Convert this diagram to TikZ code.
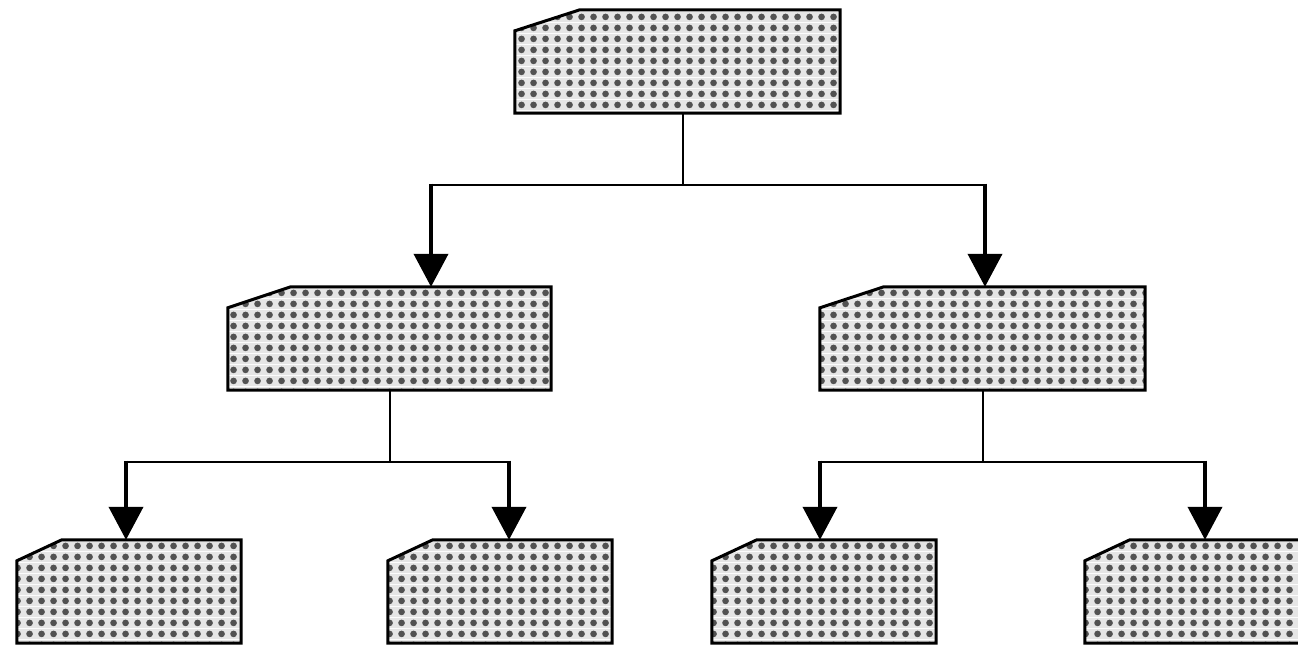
\documentclass[tikz,border=0pt]{standalone}
\usetikzlibrary{arrows.meta,patterns.meta}
\tikzdeclarepattern{
  name=dotgrid,
  type=colored,
  parameters={},
  bounding box={(0pt,0pt) and (12pt,11pt)},
  tile size={(12pt,11pt)},
  code={
    \fill[black!10] (0pt,0pt) rectangle (12pt,11pt);
    \fill[black!68] (6pt,5.5pt) circle (3.6pt);
  }
}
\tikzset{
  box/.style={draw=none, inner sep=0pt, minimum height=103pt},
  bigbox/.style={box, minimum width=325pt},
  smallbox/.style={box, minimum width=224pt},
  outline/.style={draw=black, line width=3pt, line join=miter, pattern=dotgrid},
  conn/.style={draw=black, line width=2.6pt},
  arr/.style={draw=black, line width=4pt, -{Triangle[width=34pt,length=33pt]}},
}
\begin{document}
\begin{tikzpicture}[x=1pt,y=-1pt]
\useasboundingbox (0,0) rectangle (1298,649);
\begin{scope}
\clip (0,0) rectangle (1298,649);
% boxes
\node[bigbox] (top) at (677.5,61.5) {};
\node[bigbox, minimum width=323pt] (midL) at (389.5,338.5) {};
\node[bigbox] (midR) at (982.5,338.5) {};
\node[smallbox] (bl1) at (129,591.5) {};
\node[smallbox] (bl2) at (500,591.5) {};
\node[smallbox] (br1) at (824,591.5) {};
\node[smallbox] (br2) at (1197,591.5) {};
\foreach \n/\d in {top/65,midL/63,midR/64,bl1/45,bl2/45,br1/45,br2/45}{
  \path[outline] ([yshift=-21pt]\n.north west) -- ([xshift=\d pt]\n.north west)
     -- (\n.north east) -- (\n.south east) -- (\n.south west) -- cycle;
}
\end{scope}
% level 1 connectors
\coordinate (j0) at (683,185);
\coordinate (a1) at (431,185);
\coordinate (a2) at (985,185);
\draw[conn] (top.south -| j0) -- (j0);
\draw[conn] ([xshift=-1.3pt]a1) -- ([xshift=1.3pt]a2);
\draw[arr] ([yshift=1.3pt]a1) -- (a1 |- midL.north);
\draw[arr] ([yshift=1.3pt]a2) -- (a2 |- midR.north);
% level 2 left
\coordinate (jL) at (390,462);
\coordinate (b1) at (126,462);
\coordinate (b2) at (509,462);
\draw[conn] (midL.south -| jL) -- (jL);
\draw[conn] ([xshift=-1.3pt]b1) -- ([xshift=1.3pt]b2);
\draw[arr] ([yshift=1.3pt]b1) -- (b1 |- bl1.north);
\draw[arr] ([yshift=1.3pt]b2) -- (b2 |- bl2.north);
% level 2 right
\coordinate (jR) at (983,462);
\coordinate (c1) at (820,462);
\coordinate (c2) at (1205,462);
\draw[conn] (midR.south -| jR) -- (jR);
\draw[conn] ([xshift=-1.3pt]c1) -- ([xshift=1.3pt]c2);
\draw[arr] ([yshift=1.3pt]c1) -- (c1 |- br1.north);
\draw[arr] ([yshift=1.3pt]c2) -- (c2 |- br2.north);
\end{tikzpicture}
\end{document}
